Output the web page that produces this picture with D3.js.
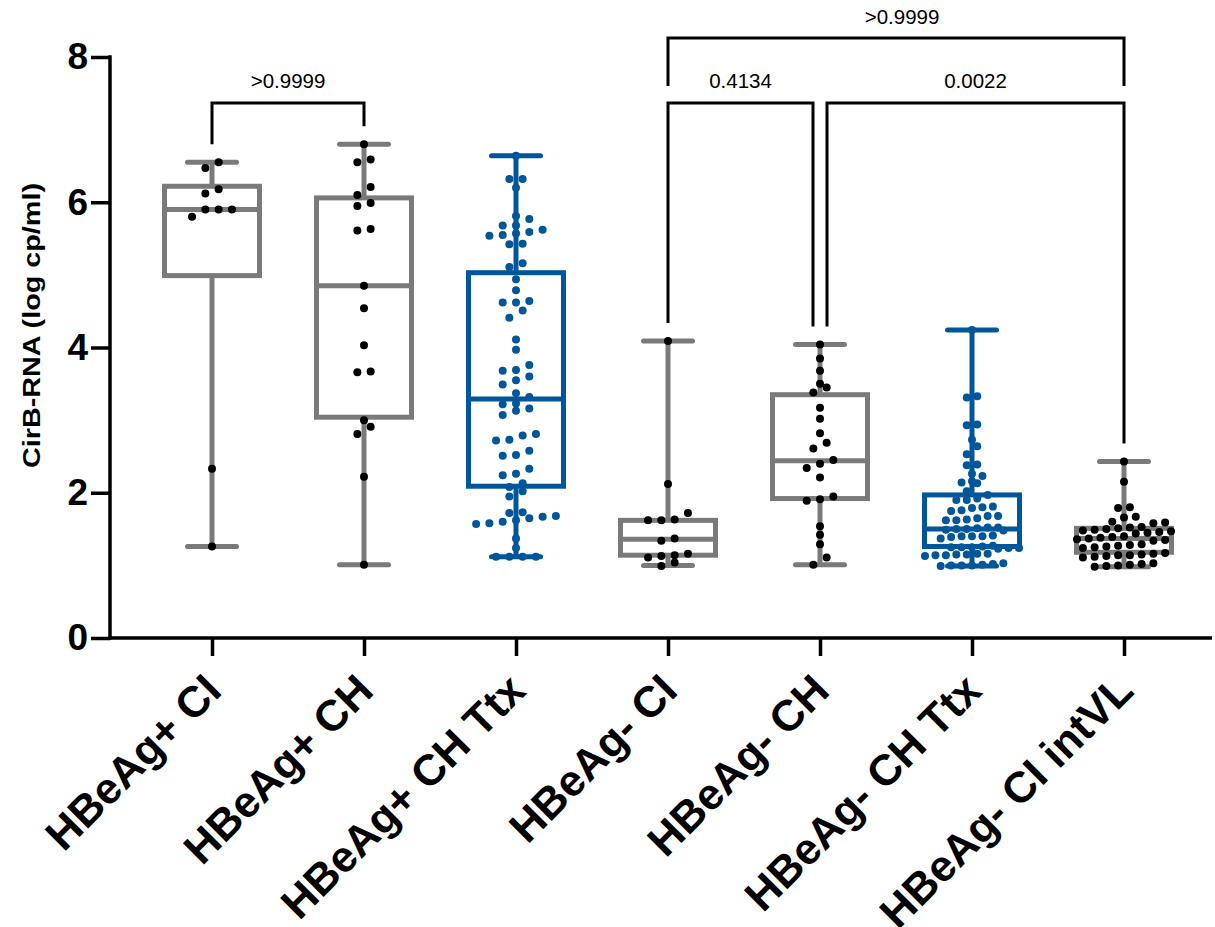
<!DOCTYPE html>
<html>
<head>
<meta charset="utf-8">
<script src="https://cdn.jsdelivr.net/npm/d3@7"></script>
<style>
  html, body { margin: 0; padding: 0; background: #ffffff; }
  svg { display: block; }
  text { font-family: "Liberation Sans", Arial, Helvetica, sans-serif; }
</style>
</head>
<body>
<svg id="chart" width="1215" height="927"></svg>
<script>
// Groups on the x axis
const categories = ["HBeAg+ CI", "HBeAg+ CH", "HBeAg+ CH Ttx", "HBeAg- CI", "HBeAg- CH", "HBeAg- CH Ttx", "HBeAg- CI intVL"];
const treatedGroup = [false, false, true, false, false, true, false];

// Box-and-whisker summaries (log cp/ml)
const boxMin    = [1.26, 1.01, 1.12, 1.00, 1.01, 0.99, 0.98];
const boxQ1     = [4.99, 3.04, 2.09, 1.14, 1.92, 1.26, 1.18];
const boxMedian = [5.90, 4.85, 3.29, 1.36, 2.44, 1.50, 1.37];
const boxQ3     = [6.22, 6.06, 5.03, 1.62, 3.35, 1.97, 1.51];
const boxMax    = [6.55, 6.80, 6.64, 4.09, 4.04, 4.24, 2.43];

// Individual CirB-RNA measurements per group
const valsPosCI = [1.26, 2.33, 5.80, 5.90, 5.90, 5.90, 6.12, 6.18, 6.47, 6.55];
const valsPosCH = [1.01, 2.22, 2.81, 2.91, 3.00, 3.66, 3.67, 4.03, 4.54, 4.85, 5.61, 5.63, 5.95, 5.99, 6.10, 6.21, 6.55, 6.59, 6.80];
const valsPosCHTtx = [1.12, 1.12, 1.12, 1.12, 1.24, 1.37, 1.57, 1.58, 1.60, 1.62, 1.65, 1.67, 1.68, 1.72, 1.73,
  1.95, 2.02, 2.08, 2.13, 2.24, 2.26, 2.33, 2.51, 2.52, 2.58, 2.72, 2.73, 2.79, 2.81, 3.07, 3.13, 3.16, 3.22, 3.23,
  3.32, 3.37, 3.49, 3.55, 3.60, 3.68, 3.69, 3.76, 3.97, 4.11, 4.41, 4.51, 4.62, 4.62, 4.64, 4.79, 4.94, 5.11, 5.16,
  5.42, 5.43, 5.54, 5.55, 5.57, 5.59, 5.62, 5.68, 5.68, 5.77, 5.81, 6.20, 6.32, 6.32, 6.64];
const valsNegCI = [0.99, 1.04, 1.11, 1.13, 1.14, 1.16, 1.34, 1.37, 1.62, 1.62, 1.63, 1.72, 2.12, 4.09];
const valsNegCH = [1.01, 1.11, 1.29, 1.42, 1.54, 1.89, 1.91, 1.95, 2.21, 2.34, 2.40, 2.45, 2.61, 2.69, 2.82, 3.02,
  3.17, 3.38, 3.45, 3.50, 3.68, 3.85, 4.04];
const valsNegCHTtx = [0.99, 1.00, 1.00, 1.00, 1.01, 1.02, 1.03, 1.13, 1.14, 1.14, 1.15, 1.15, 1.16, 1.16,
  1.23, 1.24, 1.24, 1.25, 1.25, 1.25, 1.26, 1.27, 1.37, 1.39, 1.40, 1.40, 1.40, 1.41, 1.48, 1.49, 1.50, 1.50, 1.51,
  1.52, 1.52, 1.62, 1.62, 1.63, 1.65, 1.68, 1.68, 1.75, 1.76, 1.79, 1.80, 1.81, 1.90, 1.90, 1.92, 1.97, 2.02,
  2.13, 2.14, 2.16, 2.23, 2.26, 2.38, 2.39, 2.53, 2.64, 2.73, 2.93, 2.94, 3.31, 3.33, 4.24];
const valsNegCIintVL = [0.98, 0.99, 1.00, 1.01, 1.02, 1.03, 1.11, 1.12, 1.13, 1.14, 1.14, 1.15, 1.16, 1.17,
  1.24, 1.25, 1.26, 1.27, 1.28, 1.29, 1.34, 1.35, 1.36, 1.37, 1.38, 1.39, 1.40, 1.44, 1.45, 1.46, 1.47, 1.48,
  1.49, 1.50, 1.51, 1.52, 1.53, 1.58, 1.59, 1.60, 1.66, 1.67, 1.79, 1.80, 2.15, 2.43];
const groupValues = [valsPosCI, valsPosCH, valsPosCHTtx, valsNegCI, valsNegCH, valsNegCHTtx, valsNegCIintVL];

// Multiple-comparison results: [group a, group b, adjusted p]
const compA = [0, 3, 4, 3];
const compB = [1, 4, 6, 6];
const compP = [">0.9999", "0.4134", "0.0022", ">0.9999"];
const compLevel = [0, 0, 0, 1];

// Y ticks
const yTicks = [0, 2, 4, 6, 8];

const GREY = "#7a7a7a";
const BLUE = "#00569a";

const svg = d3.select("#chart");
svg.append("rect").attr("width", 1215).attr("height", 927).attr("fill", "#ffffff");

const y = d3.scaleLinear().domain([0, 8]).range([638, 57]);
const x = d3.scalePoint().domain(categories).range([212, 1124]);

// Axes
const yAxis = svg.append("g")
  .attr("transform", "translate(110,0)")
  .call(d3.axisLeft(y).tickValues(yTicks).tickFormat(d3.format("d")).tickSize(19).tickPadding(3).tickSizeOuter(0));
yAxis.select(".domain").remove();
yAxis.selectAll(".tick line").attr("stroke", "#000").attr("stroke-width", 3.5);
yAxis.selectAll(".tick text")
  .attr("font-size", 37).attr("font-weight", "bold").attr("fill", "#000")
  .attr("font-family", "'Liberation Sans', Arial, sans-serif");
svg.append("line")
  .attr("x1", 110).attr("x2", 110).attr("y1", y(8) - 1.75).attr("y2", y(0) + 1.75)
  .attr("stroke", "#000").attr("stroke-width", 3.5);

const xAxis = svg.append("g")
  .attr("transform", `translate(0,${y(0)})`)
  .call(d3.axisBottom(x).tickSize(18).tickPadding(0).tickSizeOuter(0));
xAxis.select(".domain").remove();
xAxis.selectAll(".tick line").attr("stroke", "#000").attr("stroke-width", 3.5);
xAxis.selectAll(".tick text")
  .attr("font-size", 43.5).attr("font-weight", "bold").attr("fill", "#000")
  .attr("font-family", "'Liberation Sans', Arial, sans-serif")
  .attr("text-anchor", "end")
  .attr("dy", null).attr("y", null)
  .attr("transform", "translate(11,55) rotate(-45)");
svg.append("line")
  .attr("x1", 108.25).attr("x2", 1212).attr("y1", y(0)).attr("y2", y(0))
  .attr("stroke", "#000").attr("stroke-width", 3.5);

// Y title
svg.append("text")
  .attr("transform", `translate(40,${(183 + 468) / 2}) rotate(-90)`)
  .attr("text-anchor", "middle")
  .attr("font-size", 23.5).attr("font-weight", "bold")
  .attr("textLength", 285).attr("lengthAdjust", "spacingAndGlyphs")
  .text("CirB-RNA (log cp/ml)");

// Box plots
const boxHalf = 47.5, capHalf = 24.5;
const boxes = svg.append("g");
categories.forEach((c, i) => {
  const cx = x(c);
  const col = treatedGroup[i] ? BLUE : GREY;
  const g = boxes.append("g").attr("stroke", col).attr("stroke-width", 5).attr("fill", "none");
  // whiskers
  g.append("line").attr("x1", cx).attr("x2", cx).attr("y1", y(boxQ3[i])).attr("y2", y(boxMax[i]));
  g.append("line").attr("x1", cx).attr("x2", cx).attr("y1", y(boxQ1[i])).attr("y2", y(boxMin[i]));
  g.append("line").attr("x1", cx - capHalf).attr("x2", cx + capHalf)
    .attr("y1", y(boxMax[i])).attr("y2", y(boxMax[i])).attr("stroke-linecap", "round");
  g.append("line").attr("x1", cx - capHalf).attr("x2", cx + capHalf)
    .attr("y1", y(boxMin[i])).attr("y2", y(boxMin[i])).attr("stroke-linecap", "round");
  // box and median
  g.append("rect").attr("x", cx - boxHalf).attr("width", 2 * boxHalf)
    .attr("y", y(boxQ3[i])).attr("height", y(boxQ1[i]) - y(boxQ3[i]));
  g.append("line").attr("x1", cx - boxHalf).attr("x2", cx + boxHalf)
    .attr("y1", y(boxMedian[i])).attr("y2", y(boxMedian[i]));
});

// Scatter: points are grouped in rows of similar value and spread symmetrically
function swarm(values) {
  const sorted = values.slice().sort(d3.ascending);
  const rows = [];
  let cur = null;
  for (const v of sorted) {
    const py = y(v);
    if (!cur || cur.y0 - py > 8) { cur = { y0: py, pts: [] }; rows.push(cur); }
    cur.pts.push(v);
  }
  const maxN = d3.max(rows, r => r.pts.length);
  const step = maxN > 1 ? Math.min(13.3, 94 / (maxN - 1)) : 13.3;
  return rows.flatMap(r => r.pts.map((v, k) => ({ v, dx: (k - (r.pts.length - 1) / 2) * step })));
}

const dots = svg.append("g");
groupValues.forEach((vals, i) => {
  const cx = x(categories[i]);
  dots.append("g").selectAll("circle").data(swarm(vals)).join("circle")
    .attr("cx", d => cx + d.dx)
    .attr("cy", d => y(d.v))
    .attr("r", 4)
    .attr("fill", treatedGroup[i] ? BLUE : "#000");
});

// Significance brackets
const br = svg.append("g").attr("stroke", "#000").attr("stroke-width", 3).attr("fill", "none");
const lowY = 103, highY = 38, legGap = 18;
function bracketX(idx, side) {
  // a group used by two neighbouring brackets gets two legs side by side
  const cx = x(categories[idx]);
  const uses = compA.filter((a, k) => compLevel[k] === 0 && a === idx).length +
               compB.filter((b, k) => compLevel[k] === 0 && b === idx).length;
  return uses > 1 ? cx + (side === "a" ? 7 : -7) : cx;
}
compA.forEach((a, k) => {
  const b = compB[k];
  let xa, xb, yy, ya, yb, ty;
  if (compLevel[k] === 0) {
    xa = bracketX(a, "a"); xb = bracketX(b, "b");
    yy = lowY; ya = y(boxMax[a]) - legGap; yb = y(boxMax[b]) - legGap; ty = lowY - 15;
  } else {
    xa = x(categories[a]); xb = x(categories[b]);
    yy = highY; ya = lowY - 17; yb = lowY - 17; ty = highY - 14;
  }
  br.append("path").attr("d", `M${xa},${ya}V${yy}H${xb}V${yb}`);
  svg.append("text")
    .attr("x", (xa + xb) / 2 + (compLevel[k] === 1 ? 6 : 0)).attr("y", ty)
    .attr("text-anchor", "middle").attr("font-size", 20.5).attr("fill", "#000")
    .text(compP[k]);
});
</script>
</body>
</html>
